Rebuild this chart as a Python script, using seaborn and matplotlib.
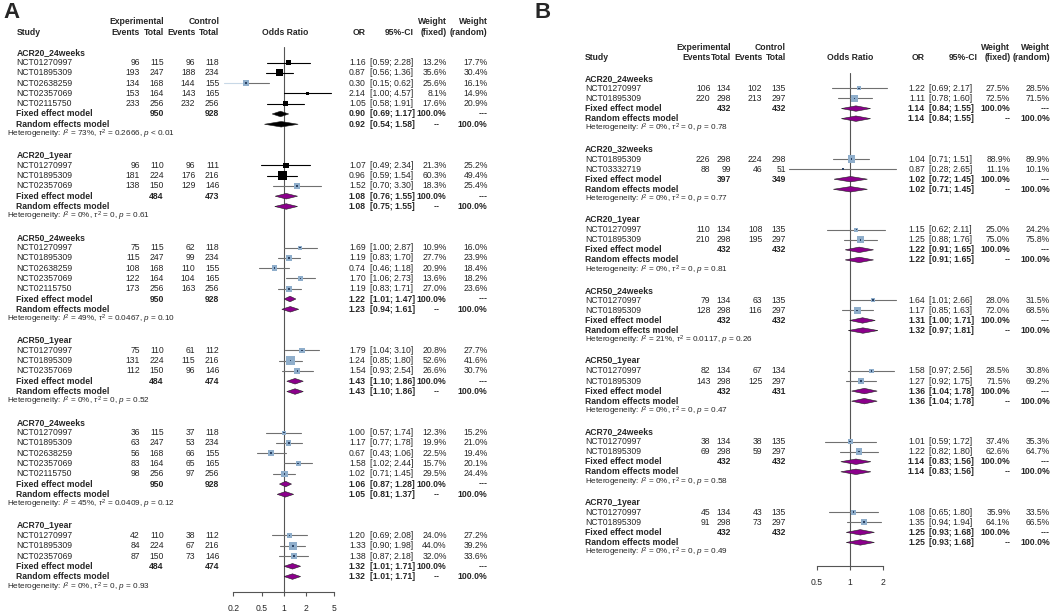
import numpy as np
import matplotlib
matplotlib.use("Agg")
import matplotlib.pyplot as plt
import seaborn as sns
from matplotlib.transforms import blended_transform_factory

# ---- panel A data ----
a_groups = ["ACR20_24weeks", "ACR20_1year", "ACR50_24weeks",
            "ACR50_1year", "ACR70_24weeks", "ACR70_1year"]
five = ["NCT01270997", "NCT01895309", "NCT02638259", "NCT02357069", "NCT02115750"]
three = ["NCT01270997", "NCT01895309", "NCT02357069"]
a_studies = [five, three, five, three, five, three]
a_exp_events = [[96, 193, 134, 153, 233], [96, 181, 138], [75, 115, 108, 122, 173],
                [75, 131, 112], [36, 63, 56, 83, 98], [42, 84, 87]]
a_exp_total = [[115, 247, 168, 164, 256], [110, 224, 150], [115, 247, 168, 164, 256],
               [110, 224, 150], [115, 247, 168, 164, 256], [110, 224, 150]]
a_ctl_events = [[96, 188, 144, 143, 232], [96, 176, 129], [62, 99, 110, 104, 163],
                [61, 115, 96], [37, 53, 66, 65, 97], [38, 67, 73]]
a_ctl_total = [[118, 234, 155, 165, 256], [111, 216, 146], [118, 234, 155, 165, 256],
               [112, 216, 146], [118, 234, 155, 165, 256], [112, 216, 146]]
a_or = [[1.16, 0.87, 0.30, 2.14, 1.05], [1.07, 0.96, 1.52], [1.69, 1.19, 0.74, 1.70, 1.19],
        [1.79, 1.24, 1.54], [1.00, 1.17, 0.67, 1.58, 1.02], [1.20, 1.33, 1.38]]
a_lo = [[0.59, 0.56, 0.15, 1.00, 0.58], [0.49, 0.59, 0.70], [1.00, 0.83, 0.46, 1.06, 0.83],
        [1.04, 0.85, 0.93], [0.57, 0.77, 0.43, 1.02, 0.71], [0.69, 0.90, 0.87]]
a_hi = [[2.28, 1.36, 0.62, 4.57, 1.91], [2.34, 1.54, 3.30], [2.87, 1.70, 1.18, 2.73, 1.71],
        [3.10, 1.80, 2.54], [1.74, 1.78, 1.06, 2.44, 1.45], [2.08, 1.98, 2.18]]
a_w_fixed = [[13.2, 35.6, 25.6, 8.1, 17.6], [21.3, 60.3, 18.3], [10.9, 27.7, 20.9, 13.6, 27.0],
             [20.8, 52.6, 26.6], [12.3, 19.9, 22.5, 15.7, 29.5], [24.0, 44.0, 32.0]]
a_w_random = [[17.7, 30.4, 16.1, 14.9, 20.9], [25.2, 49.4, 25.4], [16.0, 23.9, 18.4, 18.2, 23.6],
              [27.7, 41.6, 30.7], [15.2, 21.0, 19.4, 20.1, 24.4], [27.2, 39.2, 33.6]]
a_fixed = [(0.90, 0.69, 1.17), (1.08, 0.76, 1.55), (1.22, 1.01, 1.47),
           (1.43, 1.10, 1.86), (1.06, 0.87, 1.28), (1.32, 1.01, 1.71)]
a_random = [(0.92, 0.54, 1.58), (1.08, 0.75, 1.55), (1.23, 0.94, 1.61),
            (1.43, 1.10, 1.86), (1.05, 0.81, 1.37), (1.32, 1.01, 1.71)]
a_i2 = ["73%", "0%", "49%", "0%", "45%", "0%"]
a_tau2 = ["0.2666", "0", "0.0467", "0", "0.0409", "0"]
a_p = ["< 0.01", "= 0.61", "= 0.10", "= 0.52", "= 0.12", "= 0.93"]
a_ticks = [0.2, 0.5, 1, 2, 5]

# ---- panel B data ----
b_groups = ["ACR20_24weeks", "ACR20_32weeks", "ACR20_1year", "ACR50_24weeks",
            "ACR50_1year", "ACR70_24weeks", "ACR70_1year"]
two = ["NCT01270997", "NCT01895309"]
b_studies = [two, ["NCT01895309", "NCT03332719"], two, two, two, two, two]
b_exp_events = [[106, 220], [226, 88], [110, 210], [79, 128], [82, 143], [38, 69], [45, 91]]
b_exp_total = [[134, 298], [298, 99], [134, 298], [134, 298], [134, 298], [134, 298], [134, 298]]
b_ctl_events = [[102, 213], [224, 46], [108, 195], [63, 116], [67, 125], [38, 59], [43, 73]]
b_ctl_total = [[135, 297], [298, 51], [135, 297], [135, 297], [134, 297], [135, 297], [135, 297]]
b_or = [[1.22, 1.11], [1.04, 0.87], [1.15, 1.25], [1.64, 1.17], [1.58, 1.27], [1.01, 1.22], [1.08, 1.35]]
b_lo = [[0.69, 0.78], [0.71, 0.28], [0.62, 0.88], [1.01, 0.85], [0.97, 0.92], [0.59, 0.82], [0.65, 0.94]]
b_hi = [[2.17, 1.60], [1.51, 2.65], [2.11, 1.76], [2.66, 1.63], [2.56, 1.75], [1.72, 1.80], [1.80, 1.94]]
b_w_fixed = [[27.5, 72.5], [88.9, 11.1], [25.0, 75.0], [28.0, 72.0], [28.5, 71.5], [37.4, 62.6], [35.9, 64.1]]
b_w_random = [[28.5, 71.5], [89.9, 10.1], [24.2, 75.8], [31.5, 68.5], [30.8, 69.2], [35.3, 64.7], [33.5, 66.5]]
b_fixed = [(1.14, 0.84, 1.55), (1.02, 0.72, 1.45), (1.22, 0.91, 1.65), (1.31, 1.00, 1.71),
           (1.36, 1.04, 1.78), (1.14, 0.83, 1.56), (1.25, 0.93, 1.68)]
b_random = [(1.14, 0.84, 1.55), (1.02, 0.71, 1.45), (1.22, 0.91, 1.65), (1.32, 0.97, 1.81),
            (1.36, 1.04, 1.78), (1.14, 0.83, 1.56), (1.25, 0.93, 1.68)]
b_i2 = ["0%", "0%", "0%", "21%", "0%", "0%", "0%"]
b_tau2 = ["0", "0", "0", "0.0117", "0", "0", "0"]
b_p = ["= 0.78", "= 0.77", "= 0.81", "= 0.26", "= 0.47", "= 0.58", "= 0.49"]
b_ticks = [0.5, 1, 2]

# the first block of panel A is drawn in black in the source figure
a_black_rows = {(0, 0), (0, 1), (0, 3), (0, 4), (1, 0), (1, 1)}
a_faded_left = {(0, 2)}
a_black_diamonds = {0}

sns.set_theme(style="white")
plt.rcParams['font.family'] = ['Liberation Sans', 'DejaVu Sans']
plt.rcParams['mathtext.fontset'] = 'custom'
plt.rcParams['mathtext.rm'] = 'Liberation Sans'
plt.rcParams['mathtext.it'] = 'Liberation Sans:italic'

W, H = 1059, 612
FS = 6.2
FS_HET = 5.9
BLUE = "#8FAECB"
DOT = "#2C4466"
GREY = "#707070"
PURPLE = "#8B008B"

fig = plt.figure(figsize=(W / 100, H / 100), dpi=100)


def make_axes(x0, x1, y_top, y_bot):
    return fig.add_axes([x0 / W, 1 - y_bot / H, (x1 - x0) / W, (y_bot - y_top) / H])


def draw_panel(ax, d, cfg):
    tr = blended_transform_factory(fig.transFigure, ax.transData)

    def put(xpx, row, s, ha="left", bold=False, size=FS):
        ax.text(xpx / W, row, s, transform=tr, ha=ha, va="center", fontsize=size,
                fontweight="bold" if bold else "normal", clip_on=False)

    # header
    h1, h2 = cfg["hdr"]
    put(cfg["study"], h2, "Study", bold=True)
    put(cfg["exp_tot"], h1, "Experimental", "right", True)
    put(cfg["exp_ev"], h2, "Events", "right", True)
    put(cfg["exp_tot"], h2, "Total", "right", True)
    put(cfg["ctl_tot"], h1, "Control", "right", True)
    put(cfg["ctl_ev"], h2, "Events", "right", True)
    put(cfg["ctl_tot"], h2, "Total", "right", True)
    put(cfg["or_hdr"], h2, "Odds Ratio", "center", True)
    put(cfg["or"], h2, "OR", "right", True)
    put(cfg["ci_hdr"], h2, "95%-CI", "right", True)
    put(cfg["wf"], h1, "Weight", "right", True)
    put(cfg["wf"], h2, "(fixed)", "right", True)
    put(cfg["wr"], h1, "Weight", "right", True)
    put(cfg["wr"], h2, "(random)", "right", True)

    row = 0
    for g, name in enumerate(d["groups"]):
        put(cfg["study"], row, name, bold=True)
        row += 1
        rows, est, lo, hi, wf = [], [], [], [], []
        black = []
        for i, study in enumerate(d["studies"][g]):
            put(cfg["study"], row, study)
            put(cfg["exp_ev"], row, str(d["exp_events"][g][i]), "right")
            put(cfg["exp_tot"], row, str(d["exp_total"][g][i]), "right")
            put(cfg["ctl_ev"], row, str(d["ctl_events"][g][i]), "right")
            put(cfg["ctl_tot"], row, str(d["ctl_total"][g][i]), "right")
            put(cfg["or"], row, f"{d['or'][g][i]:.2f}", "right")
            put(cfg["ci"], row, f"[{d['lo'][g][i]:.2f}; {d['hi'][g][i]:.2f}]")
            put(cfg["wf"], row, f"{d['w_fixed'][g][i]:.1f}%", "right")
            put(cfg["wr"], row, f"{d['w_random'][g][i]:.1f}%", "right")
            rows.append(row)
            est.append(d["or"][g][i])
            lo.append(d["lo"][g][i])
            hi.append(d["hi"][g][i])
            wf.append(d["w_fixed"][g][i])
            black.append((g, i) in cfg.get("black_rows", set()))
            row += 1
        rows, est, lo, hi, wf, black = map(np.array, (rows, est, lo, hi, wf, black))
        side = cfg["sq"] * np.sqrt(wf) * 0.72
        for is_black in (True, False):
            m = black == is_black
            if not m.any():
                continue
            lc = "black" if is_black else GREY
            for r, e, l, h, i in zip(rows[m], est[m], lo[m], hi[m], np.where(m)[0]):
                if (g, i) in cfg.get("faded", set()):
                    ax.plot([l, e], [r, r], color="#C8D8E6", lw=0.8, clip_on=False, zorder=2)
                    ax.plot([e, h], [r, r], color=lc, lw=0.8, clip_on=False, zorder=2)
                else:
                    ax.plot([l, h], [r, r], color=lc, lw=0.8, clip_on=False, zorder=2)
            sns.scatterplot(x=est[m], y=rows[m], s=side[m] ** 2, marker="s",
                            color="black" if is_black else BLUE, edgecolor="none",
                            ax=ax, legend=False, clip_on=False, zorder=3)
            sns.scatterplot(x=est[m], y=rows[m], s=(1.6 * 0.72) ** 2, marker="s",
                            color="black" if is_black else DOT, edgecolor="none",
                            ax=ax, legend=False, clip_on=False, zorder=4)

        n_exp = sum(d["exp_total"][g])
        n_ctl = sum(d["ctl_total"][g])
        dcol = "black" if g in cfg.get("black_diamonds", set()) else PURPLE
        for label, (e, l, h), wtxt in (("Fixed effect model", d["fixed"][g], ("100.0%", "---")),
                                       ("Random effects model", d["random"][g], ("--", "100.0%"))):
            put(cfg["study"], row, label, bold=True)
            if label.startswith("Fixed"):
                put(cfg["exp_tot"], row, str(n_exp), "right", True)
                put(cfg["ctl_tot"], row, str(n_ctl), "right", True)
                put(cfg["wf"], row, wtxt[0], "right", True)
                put(cfg["wr"], row, wtxt[1], "right", True)
            else:
                put(cfg["wf"] + cfg["dash_off"], row, wtxt[0], "right", True)
                put(cfg["wr"], row, wtxt[1], "right", True)
            put(cfg["or"], row, f"{e:.2f}", "right", True)
            put(cfg["ci"], row, f"[{l:.2f}; {h:.2f}]", bold=True)
            hh = 0.27
            ax.fill([l, e, h, e], [row, row - hh, row, row + hh], facecolor=dcol,
                    edgecolor="#222222", lw=0.4, clip_on=False, zorder=3)
            row += 1
        het = (f"Heterogeneity: $I^2$ = {d['i2'][g]}, $\\tau^2$ = {d['tau2'][g]}, "
               f"$p$ {d['p'][g]}")
        put(cfg["het"], row, het, size=FS_HET)
        row += 2

    last = row - 2
    ax.plot([1, 1], [-0.5, cfg["row_bot"]], color="#555555", lw=0.8, clip_on=False, zorder=1)
    ax.set_xscale("log")
    ax.set_xlim(cfg["xlim"])
    ax.set_ylim(cfg["row_bot"], -1)
    ax.set_xticks(d["ticks"])
    ax.set_xticklabels([f"{t:g}" for t in d["ticks"]])
    ax.minorticks_off()
    ax.set_yticks([])
    for s in ("top", "right", "left"):
        ax.spines[s].set_visible(False)
    ax.spines["bottom"].set_color("#555555")
    ax.spines["bottom"].set_linewidth(0.8)
    ax.tick_params(axis="x", direction="out", length=3.2, width=0.8, color="#555555",
                   labelsize=FS, pad=5.5, bottom=True)
    ax.patch.set_alpha(0)
    return last


data_a = dict(groups=a_groups, studies=a_studies, exp_events=a_exp_events, exp_total=a_exp_total,
              ctl_events=a_ctl_events, ctl_total=a_ctl_total, lo=a_lo, hi=a_hi,
              w_fixed=a_w_fixed, w_random=a_w_random, fixed=a_fixed, random=a_random,
              i2=a_i2, tau2=a_tau2, p=a_p, ticks=a_ticks)
data_a["or"] = a_or
data_b = dict(groups=b_groups, studies=b_studies, exp_events=b_exp_events, exp_total=b_exp_total,
              ctl_events=b_ctl_events, ctl_total=b_ctl_total, lo=b_lo, hi=b_hi,
              w_fixed=b_w_fixed, w_random=b_w_random, fixed=b_fixed, random=b_random,
              i2=b_i2, tau2=b_tau2, p=b_p, ticks=b_ticks)
data_b["or"] = b_or

# layout (pixels)
a_row0, a_dy, a_axis = 52.3, 10.28, 591.7
cfg_a = dict(study=16.3, het=7.3, exp_ev=140, exp_tot=163.7, ctl_ev=195.3, ctl_tot=219.3,
             or_hdr=285, ci=370, ci_hdr=413.3, wf=446.7, wr=487.7, dash_off=-7,
             hdr=(-2.95, -1.95), sq=1.2, xlim=(0.2, 5),
             row_bot=(a_axis - a_row0) / a_dy,
             black_rows=a_black_rows, faded=a_faded_left, black_diamonds=a_black_diamonds)
cfg_a["or"] = 365.7
b_row0, b_dy, b_axis = 78.3, 10.09, 566
cfg_b = dict(study=585, het=585, exp_ev=710.3, exp_tot=731, ctl_ev=762.3, ctl_tot=786,
             or_hdr=850, ci=929.3, ci_hdr=977.7, wf=1010.3, wr=1050, dash_off=0,
             hdr=(-3.03, -2.04), sq=0.8, xlim=(0.5, 2),
             row_bot=(b_axis - b_row0) / b_dy)
cfg_b["or"] = 925

ax_a = make_axes(233.3, 334.3, a_row0 - a_dy, a_axis)
ax_b = make_axes(816.7, 882.7, b_row0 - b_dy, b_axis)
draw_panel(ax_a, data_a, cfg_a)
draw_panel(ax_b, data_b, cfg_b)

fig.text(3 / W, 1 - 13 / H, "A", fontsize=16, fontweight="bold", va="center", ha="left")
fig.text(534 / W, 1 - 13 / H, "B", fontsize=16, fontweight="bold", va="center", ha="left")

fig.savefig("out.png", dpi=100)
